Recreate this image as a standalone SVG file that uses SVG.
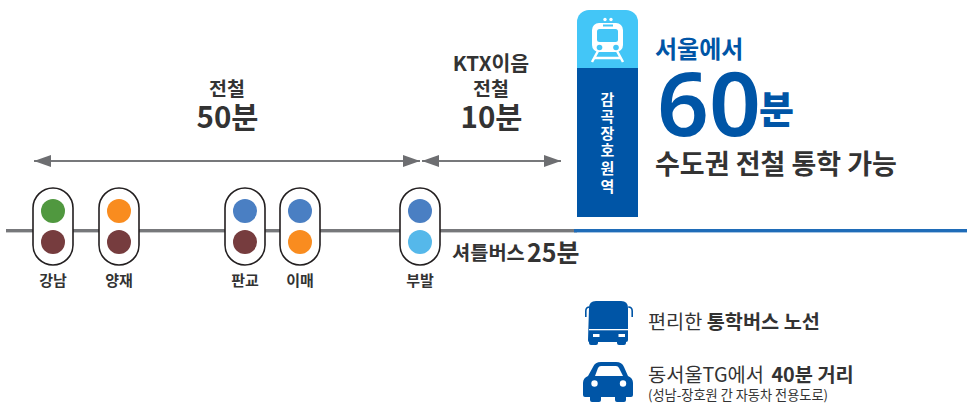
<svg xmlns="http://www.w3.org/2000/svg" width="967" height="404" viewBox="0 0 967 404">
<style>
text{font-family:"Noto Sans CJK KR","Noto Sans",sans-serif}
.cap{fill:#fff;stroke:#231f20;stroke-width:1.6}
.st{font-size:15px;font-weight:700;fill:#333;text-anchor:middle}
.h{font-weight:700;fill:#333;text-anchor:middle}
.ar{stroke:#77787b;stroke-width:2;fill:none;marker-start:url(#a);marker-end:url(#a)}
.blue{fill:#0055a6}
.g{fill:#50983f}.m{fill:#763c3e}.o{fill:#f98c1f}.b{fill:#4a7fc3}.l{fill:#55b8ea}
</style>
<defs><marker id="a" markerUnits="userSpaceOnUse" viewBox="0 0 17 12" refX="17" refY="6" markerWidth="17" markerHeight="12" orient="auto-start-reverse"><path d="M0 0L17 6L0 12Z" fill="#6d6e71"/></marker></defs>
<g id="connectors">
<rect x="6" y="229" width="571" height="3.400" fill="#77787b"/>
<rect x="574" y="229" width="393" height="3.400" fill="#1f6cb8"/>
<line class="ar" x1="34" y1="161" x2="420" y2="161"/>
<line class="ar" x1="422" y1="161" x2="561" y2="161"/>
</g>
<g id="gangnam"><rect class="cap" x="33" y="188" width="40" height="77" rx="20"/><circle class="g" cx="53" cy="211" r="12"/><circle class="m" cx="53" cy="242" r="12"/><text class="st" x="53" y="286">강남</text></g>
<g id="yangjae"><rect class="cap" x="99" y="188" width="40" height="77" rx="20"/><circle class="o" cx="119" cy="211" r="12"/><circle class="m" cx="119" cy="242" r="12"/><text class="st" x="119" y="286">양재</text></g>
<g id="pangyo"><rect class="cap" x="225" y="188" width="40" height="77" rx="20"/><circle class="b" cx="245" cy="211" r="12"/><circle class="m" cx="245" cy="242" r="12"/><text class="st" x="245" y="286">판교</text></g>
<g id="imae"><rect class="cap" x="280" y="188" width="40" height="77" rx="20"/><circle class="b" cx="300" cy="211" r="12"/><circle class="o" cx="300" cy="242" r="12"/><text class="st" x="300" y="286">이매</text></g>
<g id="bubal"><rect class="cap" x="400" y="188" width="40" height="77" rx="20"/><circle class="b" cx="420" cy="211" r="12"/><circle class="l" cx="420" cy="242" r="12"/><text class="st" x="420" y="286">부발</text></g>
<g id="label-50"><text class="h" x="227" y="96" font-size="19.500">전철</text><text class="h" x="227.500" y="128" font-size="29.500">50분</text></g>
<g id="label-10"><text class="h" x="491" y="71" font-size="20.500">KTX이음</text><text class="h" x="491" y="96" font-size="19.500">전철</text><text class="h" x="491.500" y="128" font-size="29.500">10분</text></g>
<g id="shuttle"><text x="452" y="260" font-size="19.800" font-weight="700" fill="#333">셔틀버스</text><text x="527" y="262" font-size="25" font-weight="700" fill="#333">25분</text></g>
<g id="station-box">
<path d="M577 68V22a12 12 0 0 1 12-12h37a12 12 0 0 1 12 12V68Z" fill="#43c6f7"/>
<rect class="blue" x="577" y="68" width="61" height="149"/>
<circle cx="605" cy="19.500" r="1.700" fill="#fff"/><circle cx="611" cy="19.500" r="1.700" fill="#fff"/>
<rect x="592" y="23" width="31" height="29" rx="7" fill="#fff"/>
<rect x="597" y="29" width="21" height="13" rx="2.500" fill="#43c6f7"/>
<rect x="603" y="24.500" width="10" height="2" fill="#43c6f7"/>
<circle cx="599.500" cy="47.500" r="2.800" fill="#43c6f7"/><circle cx="616" cy="47.500" r="2.800" fill="#43c6f7"/>
<path d="M598 51L592 62M617 51L623 62M595 58H620" stroke="#fff" stroke-width="2.500" fill="none"/>
<g fill="#fff" font-size="15" font-weight="700" text-anchor="middle"><text x="607.500" y="105">감</text><text x="607.500" y="122">곡</text><text x="607.500" y="139">장</text><text x="607.500" y="156">호</text><text x="607.500" y="174">원</text><text x="607.500" y="192">역</text></g>
</g>
<g id="headline">
<text x="655" y="58" font-size="24" font-weight="700" fill="#0055a6">서울에서</text>
<text x="657" y="136" font-size="89" font-weight="600" fill="#0055a6" textLength="104" lengthAdjust="spacingAndGlyphs" style="font-family:'Noto Sans',sans-serif">60</text>
<text x="759" y="123" font-size="38" font-weight="900" fill="#0055a6">분</text>
<text x="655" y="174" font-size="27" font-weight="700" fill="#333">수도권 전철 통학 가능</text>
</g>
<g id="bus">
<path class="blue" d="M589 308q0-7 7-7h25q7 0 7 7v32q0 2-2 2v1q0 2-2 2h-5q-2 0-2-2v-1h-19v1q0 2-2 2h-5q-2 0-2-2v-1q-1 0-1-2Z"/>
<path d="M585.800 317v-6q0-4 4-4M632.200 317v-6q0-4-4-4" stroke="#0055a6" stroke-width="1.600" fill="none"/>
<rect x="589" y="329" width="39" height="1.300" fill="#fff"/>
<rect x="593" y="334" width="6.500" height="3" fill="#fff"/><rect x="618.500" y="334" width="6.500" height="3" fill="#fff"/>
<text x="648" y="329" font-size="19.700" fill="#333">편리한 <tspan font-weight="700">통학버스 노선</tspan></text>
</g>
<g id="car">
<path class="blue" d="M593 367q2-5 8-5h15q6 0 8 5l4 9q5 2 5 7v12q0 2-2 2h-5v3q0 2-2 2h-7q-2 0-2-2v-3h-14v3q0 2-2 2h-7q-2 0-2-2v-3h-5q-2 0-2-2v-12q0-5 5-7Z"/>
<path d="M595 376l3-8q1-2 3-2h15q2 0 3 2l4 8Z" fill="#fff"/>
<circle cx="594.500" cy="383.500" r="3.200" fill="#fff"/><circle cx="623" cy="383.500" r="3.200" fill="#fff"/>
<text x="648" y="382" font-size="19.800" fill="#333">동서울TG에서 <tspan dx="3" font-weight="700">40분 거리</tspan></text>
<text x="648" y="400" font-size="13.200" fill="#333">(성남-장호원 간 자동차 전용도로)</text>
</g>
</svg>
